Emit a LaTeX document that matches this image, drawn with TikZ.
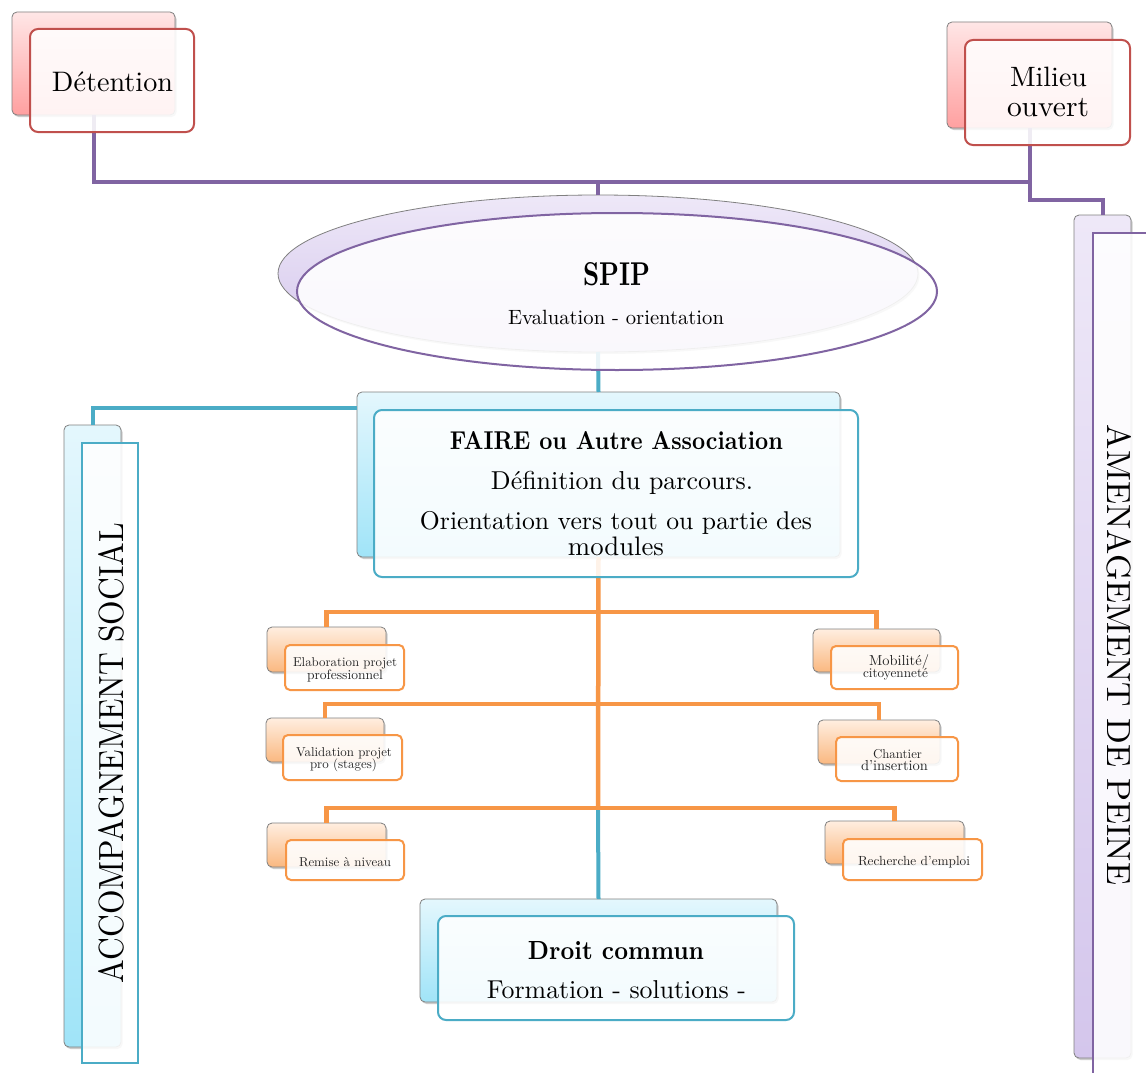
\documentclass[tikz,border=0pt]{standalone}
\usepackage{graphicx}
\usetikzlibrary{shapes.geometric,shadows}
\definecolor{redb}{HTML}{C0504D}
\definecolor{purp}{HTML}{8064A2}
\definecolor{blueb}{HTML}{4BACC6}
\definecolor{orng}{HTML}{F79646}
\definecolor{txtg}{HTML}{262626}
\newcommand\fw[2]{\resizebox{#1pt}{!}{#2}}
\newcommand\fwh[3]{\resizebox{#1pt}{#2pt}{#3}}
\newcommand\bx[6]{\node[#2, minimum width={(#5-#3)*1pt}, minimum height={(#6-#4)*1pt}] (#1) at ({(#3+#5)/2},{(#4+#6)/2}) {};}
\begin{document}
\begin{tikzpicture}[x=1pt,y=-1pt,
  backbase/.style={draw=black!50, line width=0.8pt, rounded corners=5pt, inner sep=0pt, outer sep=0pt,
     drop shadow={opacity=0.4, shadow xshift=1.5pt, shadow yshift=-2pt}},
  pinkback/.style={backbase, top color={rgb,255:red,255;green,230;blue,230}, bottom color={rgb,255:red,255;green,160;blue,160}},
  lavback/.style={backbase, top color={rgb,255:red,238;green,232;blue,248}, bottom color={rgb,255:red,212;green,198;blue,236}},
  cyanback/.style={backbase, top color={rgb,255:red,228;green,247;blue,253}, bottom color={rgb,255:red,160;green,228;blue,248}},
  orback/.style={backbase, top color={rgb,255:red,255;green,238;blue,224}, bottom color={rgb,255:red,250;green,184;blue,128}},
  frontbase/.style={line width=2pt, rounded corners=8pt, fill=white, fill opacity=0.88, inner sep=0pt, outer sep=0pt},
  redfront/.style={frontbase, draw=redb},
  bluefront/.style={frontbase, draw=blueb},
  orfront/.style={frontbase, draw=orng, rounded corners=5pt},
  sqfront/.style={line width=2pt, fill=white, fill opacity=0.88, inner sep=0pt, outer sep=0pt},
  purpline/.style={draw=purp, line width=4pt},
  blueline/.style={draw=blueb, line width=4pt},
  orline/.style={draw=orng, line width=4.5pt},
  txt/.style={anchor=base, inner sep=0pt},
  smalltxt/.style={anchor=base, inner sep=0pt, text=txtg}
]
\useasboundingbox (0,0) rectangle (1146,1073);
\clip (0,0) rectangle (1146,1073);
\fill[white] (0,0) rectangle (1146,1073);

% helper coordinates
\coordinate (hP) at (0,182);
\coordinate (hM) at (0,200);
\coordinate (hB) at (0,408);
\coordinate (j1) at (598,612);
\coordinate (j2) at (598,704);
\coordinate (j3) at (598,808);

% ---- back shapes ----
\bx{detB}{pinkback}{12}{12}{175}{115}
\bx{milB}{pinkback}{947}{22}{1112}{128}
\node[ellipse, lavback, minimum width=640pt, minimum height=157pt] (spB) at (598,273.5) {};
\bx{faB}{cyanback}{357}{392}{840}{557}
\bx{acB}{cyanback}{64}{425}{121}{1047}
\bx{amB}{lavback}{1074}{215}{1131}{1058}
\bx{elaB}{orback}{267}{627}{386}{672}
\bx{valB}{orback}{266}{718}{384}{762}
\bx{remB}{orback}{267}{823}{386}{867}
\bx{mobB}{orback}{813}{629}{940}{672}
\bx{chB}{orback}{818}{720}{940}{764}
\bx{reB}{orback}{825}{821}{964}{864}
\bx{dcB}{cyanback}{420}{899}{777}{1002}

% ---- connectors ----
\draw[purpline] (detB.south) |- (milB.south |- hP) -- (milB.south);
\draw[purpline] (spB.north) -- (spB.north |- hP);
\draw[purpline] (milB.south) |- (amB.north |- hM) -- (amB.north);
\draw[blueline] (spB.south) -- (faB.north);
\draw[blueline] (faB.west |- hB) -| (acB.north);
\draw[orline] (faB.south) -- (j3);
\draw[blueline] (j3) -- (dcB.north);
\draw[orline] (j1) -| (elaB.north);
\draw[orline] (j1) -| (mobB.north);
\draw[orline] (j2) -| (valB.north);
\draw[orline] (j2) -| (chB.north);
\draw[orline] (j3) -| (remB.north);
\draw[orline] (j3) -| (reB.north);

% ---- front shapes ----
\bx{detF}{redfront}{30}{29}{194}{132}
\bx{milF}{redfront}{965}{40}{1130}{145}
\node[ellipse, draw=purp, line width=2pt, fill=white, fill opacity=0.88, inner sep=0pt, minimum width=640pt, minimum height=157pt] (spF) at (617,291.5) {};
\bx{faF}{bluefront}{374}{410}{858}{577}
\bx{acF}{sqfront, draw=blueb}{82}{443}{138}{1063}
\bx{amF}{sqfront, draw=purp}{1093}{233}{1170}{1090}
\bx{elaF}{orfront}{285}{645}{404}{690}
\bx{valF}{orfront}{283}{735}{402}{780}
\bx{remF}{orfront}{286}{840}{404}{880}
\bx{mobF}{orfront}{831}{646}{958}{689}
\bx{chF}{orfront}{836}{737}{958}{781}
\bx{reF}{orfront}{843}{839}{982}{880}
\bx{dcF}{bluefront}{438}{916}{794}{1020}

% ---- texts ----
\node[txt] (tDet) at (112.5,92) {\fw{121}{Détention}};
\node[txt] (tMil1) at (1048.5,87) {\fw{77}{Milieu}};
\node[txt] (tMil2) at (1048,117) {\fw{82}{ouvert}};
\node[txt] (tSp1) at (616.5,285) {\fwh{67}{23}{\bfseries SPIP}};
\node[txt] (tSp2) at (616,324) {\fw{216}{Evaluation - orientation}};
\node[txt] (tFa1) at (616.5,449) {\fwh{333}{18}{\bfseries FAIRE ou Autre Association}};
\node[txt] (tFa2) at (622,489) {\fw{262}{Définition du parcours.}};
\node[txt] (tFa3) at (616,529) {\fw{392}{Orientation vers tout ou partie des}};
\node[txt] (tFa4) at (616,555) {\fw{96}{modules}};
\node[txt] (tDc1) at (616,959) {\fwh{176}{18}{\bfseries Droit commun}};
\node[txt] (tDc2) at (616.5,998) {\fw{259}{Formation - solutions -}};
\node[txt, rotate=90] (tAc) at (123,753) {\resizebox{460pt}{25pt}{ACCOMPAGNEMENT SOCIAL}};
\node[txt, rotate=-90] (tAm) at (1107,655) {\resizebox{460pt}{24pt}{AMENAGEMENT DE PEINE}};

\node[smalltxt] (tEl1) at (345,666) {\fw{104}{Elaboration projet}};
\node[smalltxt] (tEl2) at (345,679) {\fw{76}{professionnel}};
\node[smalltxt] (tVa1) at (344,756) {\fw{96}{Validation projet}};
\node[smalltxt] (tVa2) at (343.5,768) {\fw{67}{pro (stages)}};
\node[smalltxt] (tRm) at (345,866) {\fw{92}{Remise à niveau}};
\node[smalltxt] (tMo1) at (899,665) {\fw{60}{Mobilité/}};
\node[smalltxt] (tMo2) at (895.5,677) {\fw{65}{citoyenneté}};
\node[smalltxt] (tCh1) at (897.5,758) {\fw{49}{Chantier}};
\node[smalltxt] (tCh2) at (894.5,770) {\fw{67}{d'insertion}};
\node[smalltxt] (tRe) at (914,865) {\fw{112}{Recherche d'emploi}};
\end{tikzpicture}
\end{document}
